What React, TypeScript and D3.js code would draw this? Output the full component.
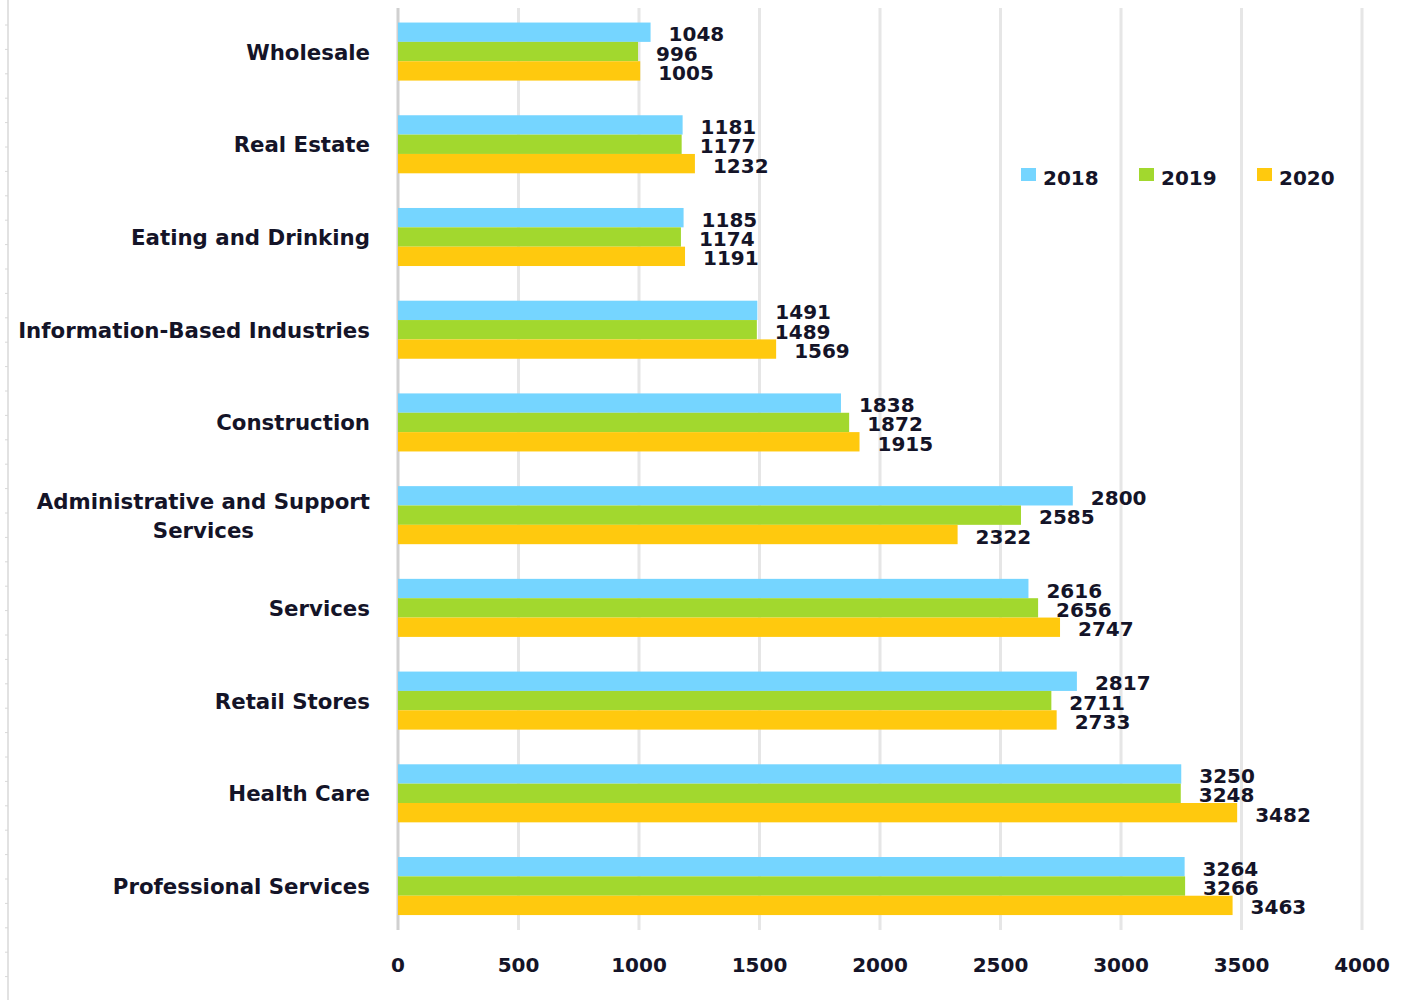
import React, { useEffect, useRef } from "react";
import * as d3 from "d3";

const categories = [
  "Wholesale",
  "Real Estate",
  "Eating and Drinking",
  "Information-Based Industries",
  "Construction",
  "Administrative and Support Services",
  "Services",
  "Retail Stores",
  "Health Care",
  "Professional Services",
];
const categoryLines: string[][] = [
  ["Wholesale"],
  ["Real Estate"],
  ["Eating and Drinking"],
  ["Information-Based Industries"],
  ["Construction"],
  ["Administrative and Support", "Services"],
  ["Services"],
  ["Retail Stores"],
  ["Health Care"],
  ["Professional Services"],
];
const seriesNames = ["2018", "2019", "2020"];
const values2018 = [1048, 1181, 1185, 1491, 1838, 2800, 2616, 2817, 3250, 3264];
const values2019 = [996, 1177, 1174, 1489, 1872, 2585, 2656, 2711, 3248, 3266];
const values2020 = [1005, 1232, 1191, 1569, 1915, 2322, 2747, 2733, 3482, 3463];
const colors = ["#75D5FF", "#A2D82E", "#FFC90E"];
const xTicks = [0, 500, 1000, 1500, 2000, 2500, 3000, 3500, 4000];

const W = 1405;
const H = 1000;
const FONT = "'DejaVu Sans', sans-serif";
const TXT = "#141428";

export default function App() {
  const ref = useRef<SVGSVGElement | null>(null);

  useEffect(() => {
    const svg = d3.select(ref.current);
    svg.selectAll("*").remove();
    const seriesValues = [values2018, values2019, values2020];

    const x = d3.scaleLinear().domain([0, 4000]).range([398, 1362]);
    const y = d3
      .scaleBand<string>()
      .domain(categories)
      .range([5.2, 932.4])
      .paddingInner(0.374)
      .paddingOuter(0.187);
    const ySub = d3
      .scaleBand<string>()
      .domain(seriesNames)
      .range([0, y.bandwidth()]);

    svg.append("rect").attr("width", W).attr("height", H).attr("fill", "#fff");

    // page border on the left
    svg
      .append("line")
      .attr("x1", 8)
      .attr("x2", 8)
      .attr("y1", 0)
      .attr("y2", H)
      .attr("stroke", "#e2e2e2")
      .attr("stroke-width", 2);
    const borderTicks = d3.range(25, H, 24.4);
    svg
      .append("g")
      .selectAll("line")
      .data(borderTicks)
      .join("line")
      .attr("x1", 5)
      .attr("x2", 8)
      .attr("y1", (d) => d)
      .attr("y2", (d) => d)
      .attr("stroke", "#d8d8d8")
      .attr("stroke-width", 1);

    // gridlines
    svg
      .append("g")
      .selectAll("line")
      .data(xTicks)
      .join("line")
      .attr("x1", (d) => x(d))
      .attr("x2", (d) => x(d))
      .attr("y1", 8)
      .attr("y2", 930)
      .attr("stroke", (d) => (d === 0 ? "#d0d0d0" : "#e6e6e6"))
      .attr("stroke-width", 3);

    // bars
    const g = svg.append("g");
    seriesNames.forEach((s, si) => {
      const vals = seriesValues[si];
      g.append("g")
        .selectAll("rect")
        .data(categories)
        .join("rect")
        .attr("x", x(0))
        .attr("y", (c) => (y(c) as number) + (ySub(s) as number))
        .attr("width", (c, i) => x(vals[i]) - x(0))
        .attr("height", ySub.bandwidth())
        .attr("fill", colors[si]);
      g.append("g")
        .selectAll("text")
        .data(categories)
        .join("text")
        .attr("x", (c, i) => x(vals[i]) + 18)
        .attr("y", (c) => (y(c) as number) + (ySub(s) as number) + ySub.bandwidth() / 2 + 9)
        .attr("font-family", FONT)
        .attr("font-weight", "bold")
        .attr("font-size", 20)
        .attr("fill", TXT)
        .text((c, i) => String(vals[i]));
    });

    // category labels
    const labG = svg.append("g");
    categories.forEach((c, ci) => {
      const lines = categoryLines[ci];
      const cy = (y(c) as number) + y.bandwidth() / 2;
      const lh = 29;
      const top = cy - ((lines.length - 1) * lh) / 2;
      const texts = lines.map((ln, li) =>
        labG
          .append("text")
          .attr("x", 370)
          .attr("y", top + li * lh + 8)
          .attr("text-anchor", "end")
          .attr("font-family", FONT)
          .attr("font-weight", "bold")
          .attr("font-size", 21.3)
          .attr("fill", TXT)
          .text(ln)
      );
      if (lines.length > 1) {
        const widths = texts.map((t) => (t.node() as SVGTextElement).getComputedTextLength());
        const maxW = Math.max(...widths);
        const center = 370 - maxW / 2;
        texts.forEach((t) => t.attr("text-anchor", "middle").attr("x", center));
      }
    });

    // x tick labels
    svg
      .append("g")
      .selectAll("text")
      .data(xTicks)
      .join("text")
      .attr("x", (d) => x(d))
      .attr("y", 972)
      .attr("text-anchor", "middle")
      .attr("font-family", FONT)
      .attr("font-weight", "bold")
      .attr("font-size", 20)
      .attr("fill", TXT)
      .text((d) => String(d));

    // legend
    const legX = [1021, 1139, 1257];
    const leg = svg.append("g");
    seriesNames.forEach((s, si) => {
      leg
        .append("rect")
        .attr("x", legX[si])
        .attr("y", 168)
        .attr("width", 15)
        .attr("height", 13)
        .attr("fill", colors[si]);
      leg
        .append("text")
        .attr("x", legX[si] + 22)
        .attr("y", 185)
        .attr("font-family", FONT)
        .attr("font-weight", "bold")
        .attr("font-size", 20)
        .attr("fill", TXT)
        .text(s);
    });
  }, []);

  return (
    <svg
      ref={ref}
      width={W}
      height={H}
      style={{ position: "absolute", left: 0, top: 0, display: "block" }}
    />
  );
}
